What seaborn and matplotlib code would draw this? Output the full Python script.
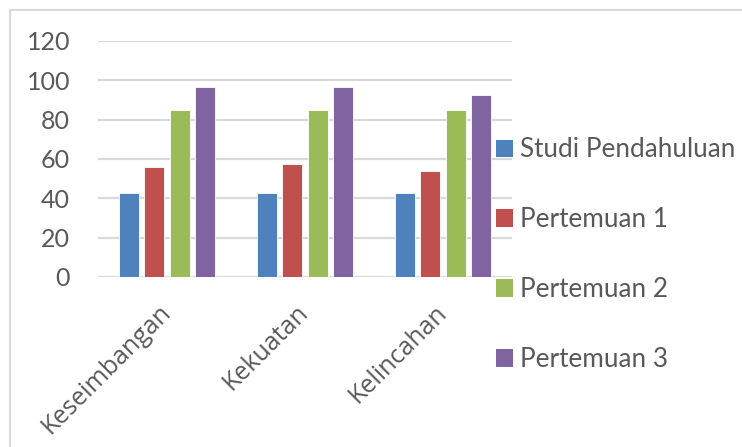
import pandas as pd
import numpy as np
import matplotlib
matplotlib.use('Agg')
import matplotlib.pyplot as plt
import seaborn as sns
from matplotlib.patches import Rectangle, Patch

# data
kategori = ['Keseimbangan', 'Kekuatan', 'Kelincahan']
seri = ['Studi Pendahuluan', 'Pertemuan 1', 'Pertemuan 2', 'Pertemuan 3']
studi_pendahuluan = [42.5, 42.5, 42.5]
pertemuan_1 = [56, 57.5, 54]
pertemuan_2 = [85, 85, 85]
pertemuan_3 = [96.5, 96.5, 92.5]
warna = ['#4F81BD', '#C0504D', '#9BBB59', '#8064A2']
yticks = [0, 20, 40, 60, 80, 100, 120]

nilai = [studi_pendahuluan, pertemuan_1, pertemuan_2, pertemuan_3]
df = pd.DataFrame({
    'kategori': kategori * len(seri),
    'seri': np.repeat(seri, len(kategori)),
    'nilai': np.concatenate(nilai),
})

sns.set_style('white')
plt.rcParams['font.family'] = ['Lato', 'DejaVu Sans']

fig = plt.figure(figsize=(7.42, 4.47), dpi=100)
ax = fig.add_axes([98 / 742, 1 - 277 / 447, 414 / 742, 236 / 447])

sns.barplot(data=df, x='kategori', y='nilai', hue='seri', palette=warna,
            width=0.725, gap=0.2, ax=ax, legend=False, saturation=1,
            edgecolor='white', linewidth=0.6)

ax.set_ylim(0, 120)
ax.set_xlim(-0.5, 2.5)
ax.set_yticks(yticks)
ax.set_yticklabels([str(t) for t in yticks], fontsize=18, color='#595959')
ax.yaxis.grid(True, color='#D9D9D9', linewidth=1.6)
ax.set_axisbelow(True)
for s in ax.spines.values():
    s.set_visible(False)
ax.axhline(0, color='#D9D9D9', linewidth=1.8, zorder=0.5)
ax.tick_params(axis='x', length=0, pad=23)
ax.tick_params(axis='y', length=0, pad=20)
ax.set_xlabel('')
ax.set_ylabel('')
ax.set_xticks(range(len(kategori)))
ax.set_xticklabels(kategori, rotation=45, ha='right', va='center',
                   rotation_mode='anchor', fontsize=18, color='#595959',
                   family='Open Sans')

handles = [Patch(facecolor=c, edgecolor='none') for c in warna]
fig.legend(handles, seri, loc='upper left', bbox_to_anchor=(486 / 742, 1 - 127 / 447),
           frameon=False, fontsize=18.8, labelcolor='#595959',
           handlelength=0.65, handleheight=0.65, handletextpad=0.25,
           labelspacing=1.72, borderaxespad=0)

fig.patches.append(Rectangle((10 / 742, -0.05), 1.1, 1 - 10 / 447 + 0.05,
                             transform=fig.transFigure, fill=False,
                             edgecolor='#D9D9D9', linewidth=1.5))

fig.savefig('out.png', dpi=100)
